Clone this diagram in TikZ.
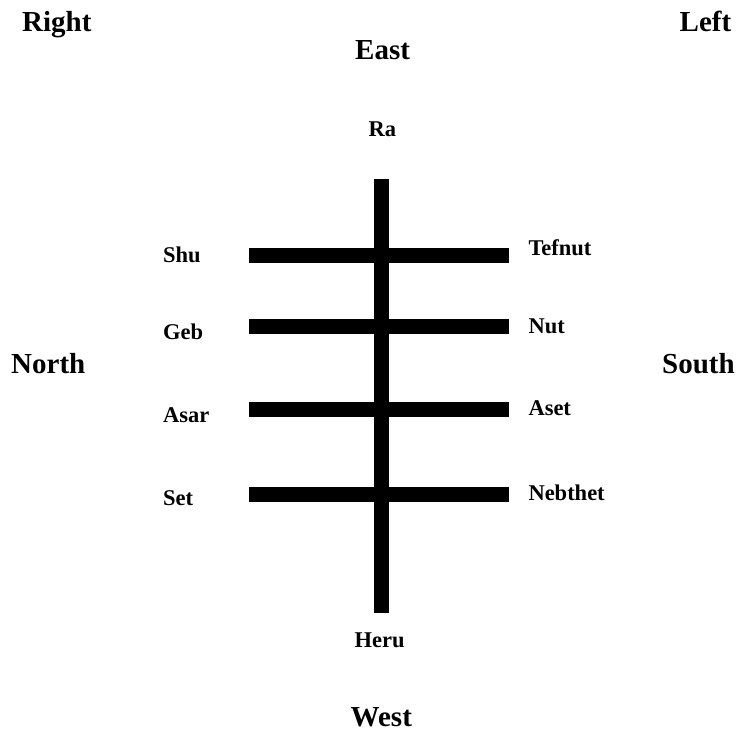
\documentclass[tikz,border=0pt]{standalone}
\usepackage{fontspec}
\setmainfont{Liberation Serif}
\begin{document}
\begin{tikzpicture}[x=1pt,y=-1pt,
  big/.style={font=\bfseries\fontsize{29}{29}\selectfont, inner sep=0pt, anchor=base west},
  small/.style={font=\bfseries\fontsize{22.5}{22.5}\selectfont, inner sep=0pt, anchor=base west},
  bar/.style={line width=15pt, line cap=butt, black}]
\useasboundingbox[fill=white] (0,0) rectangle (739,731);
% direction labels
\node[big] (right) at (22,31.7) {Right};
\node[big] (left) at (679.5,31.7) {Left};
\node[big] (east) at (355,59) {East};
\node[big] (north) at (11,373.3) {North};
\node[big] (south) at (662,373.3) {South};
\node[big] (west) at (350.5,726.8) {West};
% god labels
\node[small] (ra) at (368.5,136.7) {Ra};
\node[small] (heru) at (354.5,647.3) {Heru};
\node[small] (shu) at (163,262.3) {Shu};
\node[small] (geb) at (163,339.3) {Geb};
\node[small] (asar) at (163,422.3) {Asar};
\node[small] (set) at (163,505.7) {Set};
\node[small] (tefnut) at (528.3,255) {Tefnut};
\node[small] (nut) at (528.3,333.3) {Nut};
\node[small] (aset) at (528.3,415.7) {Aset};
\node[small] (nebthet) at (528.3,500) {Nebthet};
% bar end points
\coordinate (vtop) at (381.3,179);
\coordinate (vbot) at (381.3,613);
\coordinate (h1l) at (249,255.3);  \coordinate (h1r) at (509,255.3);
\coordinate (h2l) at (249,326.8);  \coordinate (h2r) at (509,326.8);
\coordinate (h3l) at (249,409.2);  \coordinate (h3r) at (509,409.2);
\coordinate (h4l) at (249,494.3);  \coordinate (h4r) at (509,494.3);
\draw[bar, line width=14.5pt] (vtop) -- (vbot);
\draw[bar] (h1l) -- (h1r);
\draw[bar] (h2l) -- (h2r);
\draw[bar] (h3l) -- (h3r);
\draw[bar] (h4l) -- (h4r);
\end{tikzpicture}
\end{document}
